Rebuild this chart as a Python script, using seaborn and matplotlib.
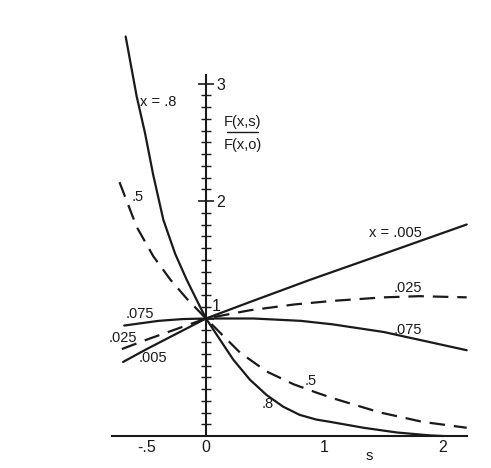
import numpy as np
import pandas as pd
import matplotlib
matplotlib.use("Agg")
import matplotlib.pyplot as plt
import seaborn as sns

sns.set_theme(style="white")
plt.rcParams['font.family'] = ['Liberation Sans', 'DejaVu Sans']

# curve data: s values and F(x,s)/F(x,0)
s_005 = [-0.70, -0.50, -0.25, 0.0, 0.37, 0.88, 1.50, 2.20]
f_005 = [0.63, 0.74, 0.87, 1.0, 1.14, 1.33, 1.55, 1.80]

s_025 = [-0.71, -0.50, -0.25, 0.0, 0.37, 0.75, 1.07, 1.50, 1.80, 2.20]
f_025 = [0.74, 0.82, 0.91, 1.0, 1.07, 1.12, 1.15, 1.18, 1.19, 1.18]

s_075 = [-0.69, -0.40, -0.20, 0.0, 0.40, 0.80, 1.07, 1.50, 2.20]
f_075 = [0.94, 0.98, 0.995, 1.0, 1.0, 0.98, 0.95, 0.885, 0.73]

s_5 = [-0.73, -0.585, -0.445, -0.30, -0.163, 0.0, 0.118, 0.287, 0.51, 0.74,
       0.93, 1.075, 1.47, 1.83, 2.20]
f_5 = [2.16, 1.78, 1.53, 1.33, 1.17, 1.0, 0.88, 0.71, 0.55, 0.44,
       0.37, 0.32, 0.20, 0.12, 0.07]

s_8 = [-0.678, -0.585, -0.515, -0.445, -0.36, -0.26, -0.163, -0.065, 0.0,
       0.118, 0.23, 0.37, 0.51, 0.65, 0.79, 0.93, 1.05, 1.33, 1.61, 1.89, 2.0]
f_8 = [3.40, 2.89, 2.58, 2.22, 1.84, 1.55, 1.33, 1.13, 1.0,
       0.82, 0.65, 0.48, 0.35, 0.25, 0.18, 0.14, 0.12, 0.07, 0.03, 0.005, 0.0]

curves = [(".005", s_005, f_005, False),
          (".025", s_025, f_025, True),
          (".075", s_075, f_075, False),
          (".5", s_5, f_5, True),
          (".8", s_8, f_8, False)]

rows = []
for name, ss, ff, dashed in curves:
    for a, b in zip(ss, ff):
        rows.append({"x": name, "s": a, "F": b})
df = pd.DataFrame(rows)

W, H = 491, 468
fig = plt.figure(figsize=(W / 100, H / 100), dpi=100)
# map: px = 206 + 118.5*s ; py = 436 - 117.5*F
xlim = (-0.85, 2.25)
ylim = (-0.2, 3.7)
left_px = 206 + 118.5 * xlim[0]
right_px = 206 + 118.5 * xlim[1]
bot_px = 436 - 117.5 * ylim[0]
top_px = 436 - 117.5 * ylim[1]
ax = fig.add_axes([left_px / W, (H - bot_px) / H, (right_px - left_px) / W, (bot_px - top_px) / H])
ax.set_facecolor("none")

col = "#1a1a1a"
for name, ss, ff, dashed in curves:
    sub = df[df["x"] == name]
    sns.lineplot(data=sub, x="s", y="F", ax=ax, color=col, lw=1.6,
                 estimator=None, sort=True,
                 linestyle=(0, (7, 4)) if dashed else "-")

ax.set_xlim(*xlim)
ax.set_ylim(*ylim)

# axes through origin
for sp in ["top", "left"]:
    ax.spines[sp].set_visible(False)
ax.spines["right"].set_position(("data", 0))
ax.spines["bottom"].set_position(("data", 0))
ax.spines["right"].set_bounds(0, 3.07)
ax.spines["bottom"].set_bounds(-0.79, 2.2)
for sp in ["right", "bottom"]:
    ax.spines[sp].set_color(col)
    ax.spines[sp].set_linewidth(1.5)

ax.yaxis.set_ticks_position("right")
ax.set_yticks([1, 2, 3])
ax.set_yticklabels(["", "2", "3"])
ax.set_yticks(np.arange(0.1, 3.05, 0.1), minor=True)
ax.tick_params(axis="y", which="major", direction="inout", length=11, width=1.2,
               colors=col, labelsize=11.5, pad=2)
ax.tick_params(axis="y", which="minor", direction="inout", length=7, width=1.0, colors=col)

ax.set_xticks([-0.5, 0, 1, 2])
ax.set_xticklabels(["-.5", "0", "1", "2"])
ax.set_xticks([v for v in np.arange(-0.7, 2.15, 0.1) if abs(v * 2 - round(v * 2)) > 1e-6], minor=True)
ax.tick_params(axis="x", which="major", direction="in", length=9, width=1.2,
               colors=col, labelsize=11.5, pad=3)
ax.tick_params(axis="x", which="minor", direction="in", length=5, width=1.0, colors=col)
ax.set_xlabel("")
ax.set_ylabel("")
ax.grid(False)

fs = 10.5
kw = dict(color=col, fontsize=fs)
ax.text(0.05, 1.10, "1", va="center", ha="left", color=col, fontsize=11.5)
ax.text(-0.56, 2.84, "x = .8", va="center", ha="left", **kw)
ax.text(-0.63, 2.03, ".5", va="center", ha="left", **kw)
ax.text(-0.56, 1.04, ".075", va="center", ha="center", **kw)
ax.text(-0.70, 0.83, ".025", va="center", ha="center", **kw)
ax.text(-0.45, 0.66, ".005", va="center", ha="center", **kw)
ax.text(1.60, 1.73, "x = .005", va="center", ha="center", **kw)
ax.text(1.70, 1.26, ".025", va="center", ha="center", **kw)
ax.text(1.70, 0.90, ".075", va="center", ha="center", **kw)
ax.text(0.88, 0.47, ".5", va="center", ha="center", **kw)
ax.text(0.52, 0.27, ".8", va="center", ha="center", **kw)
ax.text(1.38, -0.17, "s", va="center", ha="center", **kw)

# y label as fraction
ax.text(0.31, 2.67, "F(x,s)", va="center", ha="center", **kw)
ax.text(0.31, 2.48, "F(x,o)", va="center", ha="center", **kw)
ax.plot([0.18, 0.44], [2.585, 2.585], color=col, lw=1.0)

fig.savefig("out.png", dpi=100, facecolor="white")
